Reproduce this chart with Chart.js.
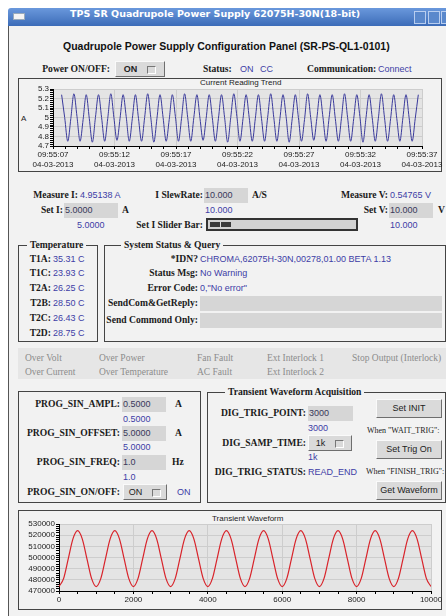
<!DOCTYPE html>
<html lang="en">
<head>
<meta charset="UTF-8">
<title>TPS SR Quadrupole Power Supply</title>
<script src="https://cdn.jsdelivr.net/npm/chart.js@4.4.0/dist/chart.umd.min.js"></script>
<style>
    body { margin: 0; width: 446px; height: 616px; position: relative; overflow: hidden; background: #fff; }
    .a { position: absolute; white-space: nowrap; }
    .lb { font: bold 9.6px "Liberation Serif", serif; color: #1a1a1a; line-height: 12px; }
    .v { font: 9px "Liberation Sans", sans-serif; color: #3d3da6; line-height: 12px; }
    .fx { font: 9.5px "Liberation Serif", serif; color: #8c8c8c; line-height: 12px; }
    .sm { font: 8px "Liberation Serif", serif; color: #222; line-height: 10px; }
    .in { background: #d6d6d6; font: 9px "Liberation Sans", sans-serif; color: #38385a; line-height: 15px; height: 15px; padding-left: 1px; box-sizing: border-box; }
    .btn { background: #dadada; border: 1px solid; border-color: #fafafa #6e6e6e #6e6e6e #fafafa; box-sizing: border-box; font: 9px "Liberation Sans", sans-serif; color: #222; text-align: center; }
    .box { border: 1px solid #444; box-sizing: border-box; }
    .leg { background: #f2f2f2; padding: 0 3px; }
    .ind { display: inline-block; width: 7px; height: 6px; border: 1px solid; border-color: #777 #fff #fff #777; vertical-align: middle; margin-left: 10px; }
    .ctitle { font: 8px "Liberation Sans", sans-serif; color: #222; line-height: 10px; }
</style>
</head>
<body>
<!-- window frame -->
<div class="a" style="left:8px;top:8px;width:438px;height:18px;background:linear-gradient(#6a98dc,#3c6cb8);border-radius:3px 0 0 0;"></div>
<div class="a" style="left:13px;top:13px;width:10px;height:5px;background:#f4f4f4;border:1px solid #9ab;"></div>
<div class="a" style="left:70px;top:8px;line-height:18px;font:bold 9.5px 'DejaVu Sans',sans-serif;color:#fff;">TPS SR Quadrupole Power Supply 62075H-30N(18-bit)</div>
<div class="a" style="left:414px;top:11px;width:10px;height:11px;border:1px solid #b8cdef;background:#5a88cc;"></div>
<div class="a" style="left:428px;top:11px;width:10px;height:11px;border:1px solid #b8cdef;background:#5a88cc;"></div>
<div class="a" style="left:441px;top:11px;width:10px;height:11px;border:1px solid #b8cdef;background:#5a88cc;"></div>
<div class="a" style="left:8px;top:26px;width:438px;height:590px;background:#f2f2f2;border-left:1px solid #555;"></div>

<div class="a" style="left:63px;top:39px;font:bold 10.5px 'Liberation Sans',sans-serif;line-height:14px;color:#111;">Quadrupole Power Supply Configuration Panel (SR-PS-QL1-0101)</div>

<div class="a lb" style="right:336px;top:63px;">Power ON/OFF:</div>
<div class="a btn" style="left:115px;top:61px;width:50px;height:16px;line-height:14px;font-weight:bold;">ON<span class="ind"></span></div>
<div class="a lb" style="left:203px;top:63px;">Status:</div>
<div class="a v" style="left:240px;top:63px;">ON</div>
<div class="a v" style="left:260px;top:63px;">CC</div>
<div class="a lb" style="left:307px;top:63px;">Communication:</div>
<div class="a v" style="left:378px;top:63px;">Connect</div>

<!-- trend chart -->
<div class="a box" style="left:18px;top:78px;width:424px;height:94px;"></div>
<div class="a ctitle" style="left:200px;top:78px;">Current Reading Trend</div>
<div class="a ctitle" style="left:21px;top:114px;">A</div>
<canvas id="trendChart" class="a" width="427" height="92" style="left:19px;top:79px;"></canvas>

<!-- readbacks -->
<div class="a lb" style="right:368px;top:189px;">Measure I:</div>
<div class="a v" style="left:80px;top:189px;">4.95138 A</div>
<div class="a lb" style="right:243px;top:189px;">I SlewRate:</div>
<div class="a in" style="left:204px;top:188px;width:44px;">10.000</div>
<div class="a lb" style="left:252px;top:189px;">A/S</div>
<div class="a lb" style="right:58px;top:189px;">Measure V:</div>
<div class="a v" style="left:390px;top:189px;">0.54765 V</div>

<div class="a lb" style="right:383px;top:204px;">Set I:</div>
<div class="a in" style="left:64px;top:203px;width:54px;">5.0000</div>
<div class="a lb" style="left:122px;top:204px;">A</div>
<div class="a v" style="left:205px;top:204px;">10.000</div>
<div class="a lb" style="right:58px;top:204px;">Set V:</div>
<div class="a in" style="left:389px;top:203px;width:44px;">10.000</div>
<div class="a lb" style="left:438px;top:204px;">V</div>

<div class="a v" style="left:77px;top:219px;">5.0000</div>
<div class="a lb" style="right:243px;top:219px;">Set I Slider Bar:</div>
<div class="a" style="left:206px;top:218px;width:152px;height:13px;box-sizing:border-box;border:2px solid #333;background:#d2d2d2;"></div>
<div class="a" style="left:210px;top:222px;width:10px;height:5px;background:#3a3a3a;border-right:1px solid #ddd;"></div>
<div class="a" style="left:221px;top:222px;width:10px;height:5px;background:#3a3a3a;"></div>
<div class="a v" style="left:390px;top:219px;">10.000</div>

<!-- temperature -->
<div class="a box" style="left:18px;top:245px;width:80px;height:97px;"></div>
<div class="a lb leg" style="left:27px;top:239px;">Temperature</div>
<div class="a lb" style="right:395px;top:253px;">T1A:</div><div class="a v" style="left:53px;top:253px;">35.31 C</div>
<div class="a lb" style="right:395px;top:267px;">T1C:</div><div class="a v" style="left:53px;top:267px;">23.93 C</div>
<div class="a lb" style="right:395px;top:282px;">T2A:</div><div class="a v" style="left:53px;top:282px;">26.25 C</div>
<div class="a lb" style="right:395px;top:297px;">T2B:</div><div class="a v" style="left:53px;top:297px;">28.50 C</div>
<div class="a lb" style="right:395px;top:312px;">T2C:</div><div class="a v" style="left:53px;top:312px;">26.43 C</div>
<div class="a lb" style="right:395px;top:327px;">T2D:</div><div class="a v" style="left:53px;top:327px;">28.75 C</div>

<!-- system status -->
<div class="a box" style="left:104px;top:245px;width:342px;height:97px;"></div>
<div class="a lb leg" style="left:121px;top:239px;">System Status &amp; Query</div>
<div class="a lb" style="right:248px;top:253px;">*IDN?</div><div class="a v" style="left:200px;top:253px;">CHROMA,62075H-30N,00278,01.00 BETA 1.13</div>
<div class="a lb" style="right:248px;top:267px;">Status Msg:</div><div class="a v" style="left:200px;top:267px;">No Warning</div>
<div class="a lb" style="right:248px;top:282px;">Error Code:</div><div class="a v" style="left:200px;top:282px;">0,"No error"</div>
<div class="a lb" style="right:248px;top:297px;">SendCom&amp;GetReply:</div><div class="a in" style="left:200px;top:296px;width:242px;"></div>
<div class="a lb" style="right:248px;top:314px;">Send Commond Only:</div><div class="a in" style="left:200px;top:313px;width:242px;"></div>

<!-- fault flags -->
<div class="a" style="left:18px;top:348px;width:428px;height:31px;background:#e6e6e6;"></div>
<div class="a fx" style="left:25px;top:352px;">Over Volt</div>
<div class="a fx" style="left:99px;top:352px;">Over Power</div>
<div class="a fx" style="left:197px;top:352px;">Fan Fault</div>
<div class="a fx" style="left:267px;top:352px;">Ext Interlock 1</div>
<div class="a fx" style="left:352px;top:352px;">Stop Output (Interlock)</div>
<div class="a fx" style="left:25px;top:366px;">Over Current</div>
<div class="a fx" style="left:99px;top:366px;">Over Temperature</div>
<div class="a fx" style="left:197px;top:366px;">AC Fault</div>
<div class="a fx" style="left:267px;top:366px;">Ext Interlock 2</div>

<!-- sine programming -->
<div class="a box" style="left:18px;top:391px;width:183px;height:112px;"></div>
<div class="a lb" style="right:326px;top:398px;">PROG_SIN_AMPL:</div>
<div class="a in" style="left:122px;top:397px;width:44px;">0.5000</div>
<div class="a lb" style="left:175px;top:398px;">A</div>
<div class="a v" style="left:123px;top:413px;">0.5000</div>
<div class="a lb" style="right:326px;top:427px;">PROG_SIN_OFFSET:</div>
<div class="a in" style="left:122px;top:426px;width:44px;">5.0000</div>
<div class="a lb" style="left:175px;top:427px;">A</div>
<div class="a v" style="left:123px;top:441px;">5.0000</div>
<div class="a lb" style="right:326px;top:456px;">PROG_SIN_FREQ:</div>
<div class="a in" style="left:122px;top:455px;width:44px;">1.0</div>
<div class="a lb" style="left:172px;top:456px;">Hz</div>
<div class="a v" style="left:123px;top:471px;">1.0</div>
<div class="a lb" style="right:326px;top:486px;">PROG_SIN_ON/OFF:</div>
<div class="a btn" style="left:123px;top:484px;width:44px;height:16px;line-height:14px;">ON<span class="ind"></span></div>
<div class="a v" style="left:177px;top:486px;">ON</div>

<!-- transient acquisition -->
<div class="a box" style="left:207px;top:392px;width:239px;height:111px;"></div>
<div class="a lb leg" style="left:225px;top:386px;">Transient Waveform Acquisition</div>
<div class="a lb" style="right:140px;top:407px;">DIG_TRIG_POINT:</div>
<div class="a in" style="left:308px;top:406px;width:45px;">3000</div>
<div class="a v" style="left:308px;top:422px;">3000</div>
<div class="a lb" style="right:140px;top:437px;">DIG_SAMP_TIME:</div>
<div class="a btn" style="left:308px;top:435px;width:44px;height:16px;line-height:14px;">1k<span class="ind"></span></div>
<div class="a v" style="left:308px;top:451px;">1k</div>
<div class="a lb" style="right:140px;top:466px;">DIG_TRIG_STATUS:</div>
<div class="a v" style="left:308px;top:466px;">READ_END</div>
<div class="a btn" style="left:376px;top:399px;width:66px;height:19px;line-height:17px;">Set INIT</div>
<div class="a sm" style="left:367px;top:426px;">When "WAIT_TRIG":</div>
<div class="a btn" style="left:376px;top:440px;width:66px;height:19px;line-height:17px;">Set Trig On</div>
<div class="a sm" style="left:366px;top:467px;">When "FINISH_TRIG":</div>
<div class="a btn" style="left:376px;top:481px;width:66px;height:19px;line-height:17px;">Get Waveform</div>

<!-- transient waveform chart -->
<div class="a box" style="left:18px;top:510px;width:424px;height:100px;"></div>
<div class="a ctitle" style="left:212px;top:514px;">Transient Waveform</div>
<canvas id="waveChart" class="a" width="427" height="98" style="left:19px;top:511px;"></canvas>

<script>
// current reading trend, one sample every 0.25 s from 0.7 s after 09:55:07
const trendStart = 0.7;
const trendStep = 0.25;
const trendCurrent = [
    5.24,5.00,4.75,4.99, 5.25,5.01,4.75,4.98, 5.24,4.99,4.74,5.00, 5.24,5.00,4.75,4.99, 5.25,5.00,4.76,4.99,
    5.24,5.01,4.75,4.99, 5.24,4.99,4.75,5.00, 5.25,5.00,4.74,4.99, 5.24,5.00,4.75,4.98, 5.24,5.01,4.75,4.99,
    5.25,5.00,4.75,5.00, 5.24,4.99,4.76,4.99, 5.24,5.00,4.75,4.99, 5.24,5.00,4.74,5.00, 5.25,5.01,4.75,4.99,
    5.24,5.00,4.75,4.99, 5.24,4.99,4.75,5.00, 5.25,5.00,4.75,4.99, 5.24,5.01,4.74,4.99, 5.24,5.00,4.75,4.98,
    5.25,5.00,4.76,4.99, 5.24,5.00,4.75,5.00, 5.24,4.99,4.75,4.99, 5.25,5.00,4.75,4.99, 5.24,5.01,4.74,5.00,
    5.24,5.00,4.75,4.99, 5.25,5.00,4.75,4.99, 5.24,4.99,4.75,5.00, 5.24,5.00,4.75,4.99,
    5.24
];
const trendTimes = ['09:55:07','09:55:12','09:55:17','09:55:22','09:55:27','09:55:32','09:55:37'];
const trendDate = '04-03-2013';
const trendYTicks = [5.3, 5.2, 5.1, 5, 4.9, 4.8, 4.7];

// transient waveform, one point every 125 samples
const waveStep = 125;
const waveValues = [
    474000,481300,499000,516700,524000,516700,499000,481300,
    474000,481300,499000,516700,524000,516700,499000,481300,
    474000,481300,499000,516700,524000,516700,499000,481300,
    474000,481300,499000,516700,524000,516700,499000,481300,
    474000,481300,499000,516700,524000,516700,499000,481300,
    474000,481300,499000,516700,524000,516700,499000,481300,
    474000,481300,499000,516700,524000,516700,499000,481300,
    474000,481300,499000,516700,524000,516700,499000,481300,
    474000,481300,499000,516700,524000,516700,499000,481300,
    474000,481300,499000,516700,524000,516700,499000,481300,
    474000
];
const waveXTicks = [0, 2000, 4000, 6000, 8000, 10000];
const waveYTicks = [530000, 520000, 510000, 500000, 490000, 480000, 470000];

const plotBg = {
    id: 'plotBg',
    beforeDraw(chart) {
        const a = chart.chartArea, ctx = chart.ctx;
        ctx.save();
        ctx.fillStyle = '#e4e4e4';
        ctx.fillRect(a.left, a.top, a.width, a.height);
        ctx.restore();
    }
};

const tickFont = { family: 'Liberation Sans', size: 8 };
const isIn = (list, v) => list.some(t => Math.abs(t - v) < 1e-6);

new Chart(document.getElementById('trendChart'), {
    type: 'line',
    data: {
        datasets: [{
            data: trendCurrent.map((y, i) => ({ x: trendStart + i * trendStep, y: y })),
            borderColor: '#3a3a9c',
            borderWidth: 1,
            pointRadius: 0,
            cubicInterpolationMode: 'monotone'
        }]
    },
    options: {
        responsive: false,
        animation: false,
        devicePixelRatio: 1,
        layout: { padding: { top: 10, right: 24, left: 0, bottom: 0 } },
        plugins: { legend: { display: false }, tooltip: { enabled: false } },
        scales: {
            x: {
                type: 'linear', min: 0, max: 30,
                afterFit: s => { s.height = 25; },
                border: { color: '#000' },
                grid: {
                    color: c => (c.tick && c.tick.value % 5 === 0) ? '#cdcdcd' : 'rgba(0,0,0,0)',
                    tickColor: '#000', tickLength: 3
                },
                ticks: {
                    stepSize: 1, autoSkip: false, maxRotation: 0, padding: 1,
                    font: tickFont, color: '#222',
                    callback: v => v % 5 === 0 ? [trendTimes[v / 5], trendDate] : ''
                }
            },
            y: {
                min: 4.7, max: 5.3,
                afterFit: s => { s.width = 34; },
                border: { color: '#000' },
                grid: {
                    color: c => (c.tick && isIn(trendYTicks, c.tick.value)) ? '#cdcdcd' : 'rgba(0,0,0,0)',
                    tickColor: '#000', tickLength: 3
                },
                ticks: {
                    stepSize: 0.02, autoSkip: false, padding: 1,
                    font: tickFont, color: '#222',
                    callback: v => isIn(trendYTicks, v) ? String(Number(v.toFixed(1))) : ''
                }
            }
        }
    },
    plugins: [plotBg]
});

new Chart(document.getElementById('waveChart'), {
    type: 'line',
    data: {
        datasets: [{
            data: waveValues.map((y, i) => ({ x: i * waveStep, y: y })),
            borderColor: '#d8232a',
            borderWidth: 1.2,
            pointRadius: 0,
            cubicInterpolationMode: 'monotone'
        }]
    },
    options: {
        responsive: false,
        animation: false,
        devicePixelRatio: 1,
        layout: { padding: { top: 13, right: 15, left: 0, bottom: 0 } },
        plugins: { legend: { display: false }, tooltip: { enabled: false } },
        scales: {
            x: {
                type: 'linear', min: 0, max: 10000,
                afterFit: s => { s.height = 18; },
                border: { color: '#000' },
                grid: {
                    color: c => (c.tick && waveXTicks.includes(c.tick.value)) ? '#cdcdcd' : 'rgba(0,0,0,0)',
                    tickColor: '#000', tickLength: 3
                },
                ticks: {
                    stepSize: 500, autoSkip: false, maxRotation: 0, padding: 1,
                    font: tickFont, color: '#222',
                    callback: v => waveXTicks.includes(v) ? String(v) : ''
                }
            },
            y: {
                min: 470000, max: 530000,
                afterFit: s => { s.width = 40; },
                border: { color: '#000' },
                grid: {
                    color: c => (c.tick && waveYTicks.includes(c.tick.value)) ? '#cdcdcd' : 'rgba(0,0,0,0)',
                    tickColor: '#000', tickLength: 3
                },
                ticks: {
                    stepSize: 2000, autoSkip: false, padding: 1,
                    font: tickFont, color: '#222',
                    callback: v => waveYTicks.includes(v) ? String(v) : ''
                }
            }
        }
    },
    plugins: [plotBg]
});
</script>
</body>
</html>
